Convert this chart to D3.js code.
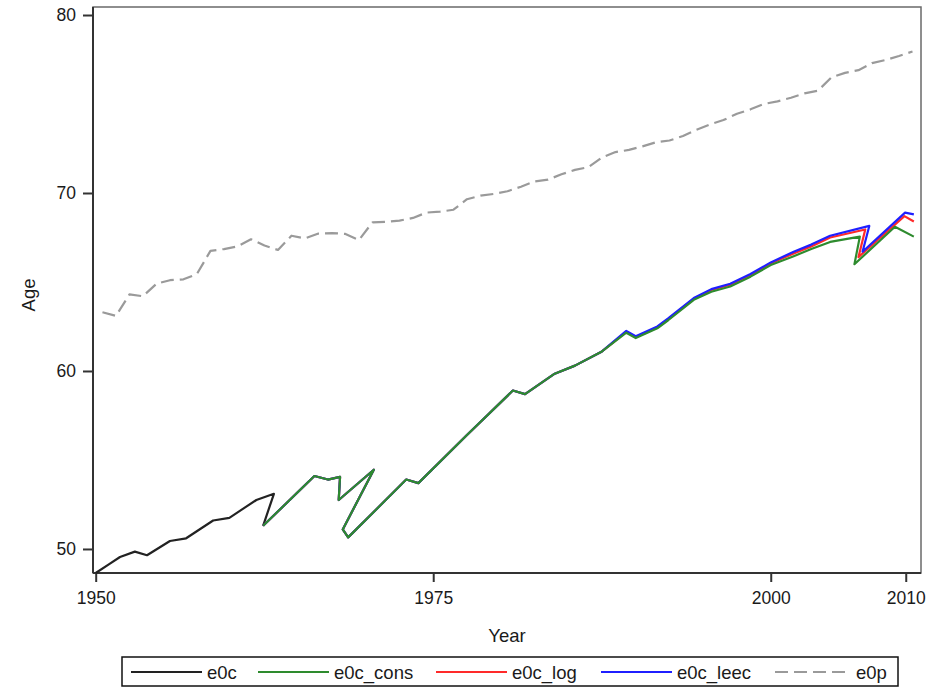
<!DOCTYPE html>
<html>
<head>
<meta charset="utf-8">
<script src="https://cdn.jsdelivr.net/npm/d3@7"></script>
<style>
  body { margin: 0; background: #fff; }
  text { font-family: "Liberation Sans", Arial, sans-serif; fill: #1a1a1a; }
</style>
</head>
<body>
<script>
// life expectancy series (year, age)
const e0cYear = [1950.0, 1951.0, 1951.8, 1952.9, 1953.8, 1955.5, 1956.7, 1957.6, 1958.7, 1959.9, 1960.9, 1961.9, 1963.2, 1962.4];
const e0cAge  = [48.65, 49.15, 49.55, 49.85, 49.65, 50.45, 50.6, 51.05, 51.6, 51.75, 52.25, 52.75, 53.1, 51.3];

// the three corrected series share the same path until the late 1980s
const sharedYear = [1962.4, 1966.2, 1967.2, 1968.1, 1968.0, 1970.6, 1968.3, 1968.7, 1973.0, 1973.9, 1977.5, 1980.9, 1981.8, 1984.0, 1985.5, 1987.5];
const sharedAge  = [51.3, 54.1, 53.9, 54.05, 52.75, 54.45, 51.1, 50.65, 53.9, 53.7, 56.4, 58.9, 58.7, 59.85, 60.3, 61.1];

const consYear = [1989.3, 1990.0, 1991.6, 1992.4, 1994.3, 1995.6, 1997.0, 1998.5, 2000.0, 2001.7, 2003.0, 2004.4, 2006.6, 2006.2, 2009.2, 2010.6];
const consAge  = [62.15, 61.85, 62.4, 62.85, 64.0, 64.45, 64.75, 65.3, 65.95, 66.45, 66.85, 67.25, 67.55, 66.0, 68.1, 67.55];

const logYear = [1989.3, 1990.0, 1991.6, 1992.4, 1994.3, 1995.6, 1997.0, 1998.5, 2000.0, 2001.7, 2003.0, 2004.4, 2007.0, 2006.5, 2009.9, 2010.6];
const logAge  = [62.2, 61.9, 62.45, 62.9, 64.05, 64.55, 64.85, 65.4, 66.05, 66.6, 67.0, 67.5, 67.95, 66.4, 68.7, 68.4];

const leecYear = [1989.3, 1990.0, 1991.6, 1992.4, 1994.3, 1995.6, 1997.0, 1998.5, 2000.0, 2001.7, 2003.0, 2004.4, 2007.3, 2006.8, 2009.95, 2010.6];
const leecAge  = [62.25, 61.95, 62.5, 62.95, 64.1, 64.6, 64.9, 65.45, 66.1, 66.7, 67.1, 67.6, 68.15, 66.7, 68.9, 68.8];

// e0p is annual, plotted at mid-year
const e0pYear = d3.range(1950.5, 2011, 1);
const e0pAge = [63.3, 63.1, 64.3, 64.2, 64.9, 65.1, 65.15, 65.45, 66.75, 66.85,
                67.0, 67.4, 67.05, 66.8, 67.6, 67.45, 67.72, 67.75, 67.7, 67.36,
                68.35, 68.38, 68.45, 68.6, 68.9, 68.95, 69.06, 69.65, 69.85, 69.95,
                70.1, 70.35, 70.65, 70.75, 71.05, 71.3, 71.45, 72.0, 72.3, 72.42,
                72.62, 72.85, 72.95, 73.2, 73.55, 73.85, 74.1, 74.45, 74.7, 75.0,
                75.15, 75.35, 75.6, 75.75, 76.5, 76.75, 76.9, 77.3, 77.47, 77.7, 77.95];

const xTicks = [1950, 1975, 2000, 2010];
const yTicks = [50, 60, 70, 80];

const seriesNames = ["e0c", "e0c_cons", "e0c_log", "e0c_leec", "e0p"];
const seriesColors = ["#222222", "#2e8b2e", "#ff2a2a", "#1f1fff", "#9a9a9a"];

function zip(years, ages) {
  return years.map(function (yr, i) { return { year: yr, age: ages[i] }; });
}

const series = [
  { name: "e0c", pts: zip(e0cYear, e0cAge) },
  { name: "e0c_log", pts: zip(sharedYear.concat(logYear), sharedAge.concat(logAge)) },
  { name: "e0c_leec", pts: zip(sharedYear.concat(leecYear), sharedAge.concat(leecAge)) },
  { name: "e0c_cons", pts: zip(sharedYear.concat(consYear), sharedAge.concat(consAge)) },
  { name: "e0p", pts: zip(e0pYear, e0pAge) }
];

const colorOf = d3.scaleOrdinal().domain(seriesNames).range(seriesColors);

// plot area
const plotLeft = 93, plotTop = 7, plotRight = 921, plotBottom = 573;

let svg = d3.select("body").append("svg")
  .attr("width", 929)
  .attr("height", 687);

let x = d3.scaleLinear().domain([1949.8, 2011.13]).range([plotLeft, plotRight]);
let y = d3.scaleLinear().domain([48.65, 80.45]).range([plotBottom, plotTop]);

// frame
svg.append("rect")
  .attr("x", plotLeft).attr("y", plotTop)
  .attr("width", plotRight - plotLeft).attr("height", plotBottom - plotTop)
  .attr("fill", "none")
  .attr("stroke", "#6a6a6a")
  .attr("stroke-width", 1.5);

// axes
let yAxis = svg.append("g")
  .attr("transform", "translate(" + plotLeft + ",0)")
  .call(d3.axisLeft(y).tickValues(yTicks).tickSize(10).tickPadding(7));
let xAxis = svg.append("g")
  .attr("transform", "translate(0," + plotBottom + ")")
  .call(d3.axisBottom(x).tickValues(xTicks).tickFormat(d3.format("d")).tickSize(9).tickPadding(10));

[xAxis, yAxis].forEach(function (g) {
  g.select(".domain").attr("stroke", "#333").attr("stroke-width", 2);
  g.selectAll(".tick line").attr("stroke", "#333").attr("stroke-width", 2);
  g.selectAll(".tick text").attr("font-size", 17.5).attr("fill", "#1a1a1a")
    .attr("font-family", "Liberation Sans, Arial, sans-serif");
});
yAxis.select(".domain").attr("d", "M0," + plotBottom + "V" + plotTop);
xAxis.select(".domain").attr("d", "M" + plotLeft + ",0H" + plotRight);

// axis titles
svg.append("text")
  .attr("x", 507).attr("y", 642)
  .attr("text-anchor", "middle")
  .attr("font-size", 18.5)
  .text("Year");
svg.append("text")
  .attr("transform", "translate(35,295) rotate(-90)")
  .attr("text-anchor", "middle")
  .attr("font-size", 18.5)
  .text("Age");

// lines
let line = d3.line()
  .x(function (d) { return x(d.year); })
  .y(function (d) { return y(d.age); });

svg.selectAll(".series")
  .data(series)
  .enter().append("path")
  .attr("class", "series")
  .attr("d", function (d) { return line(d.pts); })
  .attr("fill", "none")
  .attr("stroke", function (d) { return colorOf(d.name); })
  .attr("stroke-width", 2.2)
  .attr("stroke-linejoin", "round")
  .attr("stroke-dasharray", function (d) { return d.name === "e0p" ? "13,6" : null; });

// legend
const legendX = [131, 258, 436, 601, 775];
let legend = svg.append("g");
legend.append("rect")
  .attr("x", 122).attr("y", 657)
  .attr("width", 776).attr("height", 29)
  .attr("fill", "#fff")
  .attr("stroke", "#111")
  .attr("stroke-width", 1.5);

let item = legend.selectAll(".item")
  .data(seriesNames)
  .enter().append("g")
  .attr("class", "item")
  .attr("transform", function (d, i) { return "translate(" + legendX[i] + ",672)"; });

item.append("line")
  .attr("x1", 0).attr("x2", function (d) { return d === "e0p" ? 75 : 71; })
  .attr("y1", 0).attr("y2", 0)
  .attr("stroke", function (d) { return colorOf(d); })
  .attr("stroke-width", 2.2)
  .attr("stroke-dasharray", function (d) { return d === "e0p" ? "13,6" : null; });

item.append("text")
  .attr("x", function (d) { return d === "e0p" ? 81 : 76; })
  .attr("y", 6.5)
  .attr("font-size", 18.5)
  .text(function (d) { return d; });
</script>
</body>
</html>
